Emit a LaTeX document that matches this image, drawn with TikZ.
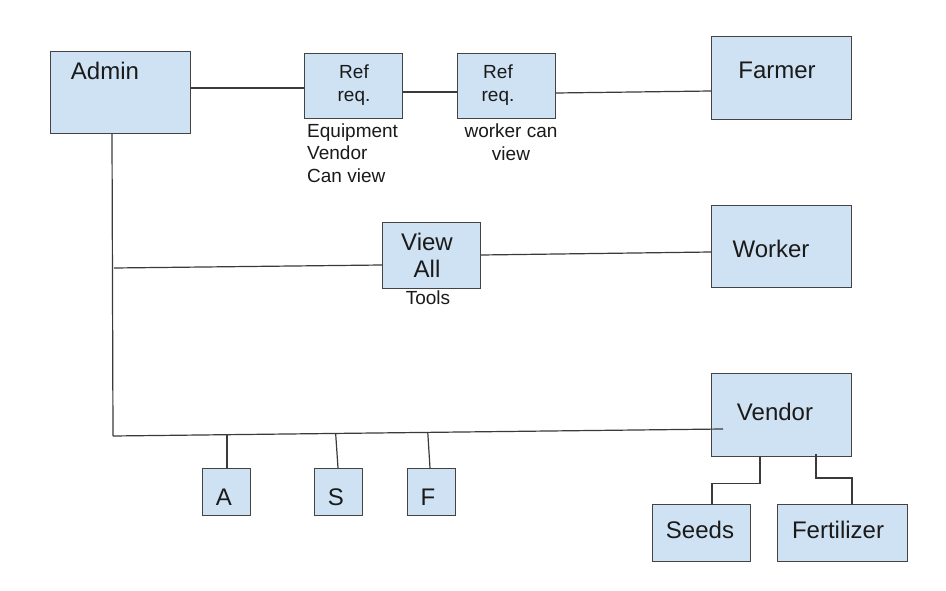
\documentclass[tikz,border=0pt]{standalone}
\usepackage{fontspec}
\setmainfont{Liberation Sans}
\definecolor{boxfill}{HTML}{CFE2F3}
\definecolor{boxline}{HTML}{434343}
\definecolor{connline}{HTML}{3A3A3A}
\definecolor{txt}{HTML}{1A1A1A}
\begin{document}
\begin{tikzpicture}[x=1pt,y=-1pt,
  box/.style={draw=boxline, fill=boxfill, line width=1.2pt, inner sep=0pt, anchor=north west},
  conn/.style={draw=connline, line width=1.2pt},
  big/.style={text=txt, inner sep=0pt, font=\fontsize{24}{27}\selectfont},
  small/.style={text=txt, inner sep=0pt, font=\fontsize{19}{22.5}\selectfont}]
\useasboundingbox[fill=white] (0,0) rectangle (946,591);
% boxes
\node[box, minimum width=140pt, minimum height=82pt] (admin) at (50,51) {};
\node[box, minimum width=98pt, minimum height=65pt] (ref1) at (304,53) {};
\node[box, minimum width=98pt, minimum height=65pt] (ref2) at (457,53) {};
\node[box, minimum width=140pt, minimum height=83pt] (farmer) at (711,36) {};
\node[box, minimum width=98pt, minimum height=66pt] (viewall) at (382,222) {};
\node[box, minimum width=140pt, minimum height=82pt] (worker) at (711,205) {};
\node[box, minimum width=140pt, minimum height=83pt] (vendor) at (711,373) {};
\node[box, minimum width=48pt, minimum height=47pt] (a) at (202,468) {};
\node[box, minimum width=48pt, minimum height=47pt] (s) at (314,468) {};
\node[box, minimum width=48pt, minimum height=47pt] (f) at (407,468) {};
\node[box, minimum width=98pt, minimum height=57pt] (seeds) at (652,504) {};
\node[box, minimum width=130pt, minimum height=57pt] (fert) at (777,504) {};
% texts
\node[big] (admint) at (105,71) {Admin};
\node[small, align=center] (ref1t) at (354,85) {Ref\\req.};
\node[small, align=center] (ref2t) at (498,85) {Ref\\req.};
\node[big] (farmert) at (777,70) {Farmer};
\node[big, align=center] (viewallt) at (427,255) {View\\All};
\node[big] (workert) at (771,249) {Worker};
\node[big] (vendort) at (775,412) {Vendor};
\node[big] (at) at (224,497) {A};
\node[big] (st) at (336,497) {S};
\node[big] (ft) at (428,497) {F};
\node[big] (seedst) at (700,530) {Seeds};
\node[big] (fertt) at (838,530) {Fertilizer};
\node[small, align=left, anchor=west] (equipt) at (307,153) {Equipment\\Vendor\\Can view};
\node[small, align=center] (workercant) at (511,142) {worker can\\view};
\node[small] (toolst) at (428,298) {Tools};
% connectors
\draw[conn] (admin.east |- 0,88) -- (ref1.west |- 0,88);
\draw[conn] (ref1.east |- 0,92) -- (ref2.west |- 0,92);
\draw[conn] (ref2.east |- 0,93) -- (farmer.west |- 0,91);
\coordinate (j) at (113,436);
\coordinate (jv) at (114,268);
\coordinate (vend) at (723,429);
\draw[conn] (admin.south -| 112,0) -- (j);
\draw[conn] (jv) -- (viewall.west |- 0,265);
\draw[conn] (viewall.east |- 0,255) -- (worker.west |- 0,252);
\draw[conn] (j) -- coordinate[pos=0.187] (ba) coordinate[pos=0.365] (bs) coordinate[pos=0.516] (bf) (vend);
\draw[conn] (ba) -- (a.north -| ba);
\draw[conn] (bs) -- (s.north -| 338,0);
\draw[conn] (bf) -- (f.north -| 430,0);
\draw[conn] (vendor.south -| 760,0) -- ++(0,26) -| (seeds.north -| 712,0);
\draw[conn] ([yshift=3pt]vendor.south -| 816,0) -- (816,478) -| (fert.north -| 852,0);
\end{tikzpicture}
\end{document}
